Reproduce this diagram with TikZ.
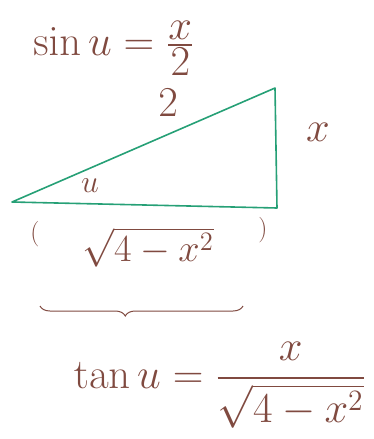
\documentclass[tikz,border=0pt]{standalone}
\usepackage{amsmath}
\usetikzlibrary{decorations.pathreplacing}
\definecolor{ink}{RGB}{128,74,64}
\definecolor{leaf}{RGB}{38,160,118}
\tikzset{t/.style={text=ink,font=\huge,inner sep=0pt,scale=2.05},
 g/.style={draw=leaf,line width=1.6pt,line join=round},
 br/.style={draw=ink,line width=1pt,decorate,decoration={brace,amplitude=10pt,aspect=0.58}}}

\begin{document}
\begin{tikzpicture}[x=1pt,y=-1pt]
\useasboundingbox (0,0) rectangle (374,439);
\coordinate(a) at (12,202);\coordinate(b) at (277,208);\coordinate(c) at (275,88);
\draw[g](a)--(b)--(c)--cycle;
\node[t](s) at (114,48){$\sin u=\frac{\textstyle x}{\textstyle 2}$};
\node[t](h) at (168,103){$2$};\node[t](o) at (318,132){$x$};\node[t,scale=0.75](u) at (90,186){$u$};
\node[t,scale=0.6](p) at (35,234){(};\node[t,scale=0.6](q) at (263,230){)};
\node[t,scale=0.9](r) at (148,247){$\sqrt{4-x^2}$};
\coordinate(l) at (40,306);\coordinate(m) at (243,306);
\draw[br](m)--(l);
\node[t](n) at (220,385){$\tan u=\dfrac{x}{\sqrt{4-x^2}}$};
\end{tikzpicture}
\end{document}
